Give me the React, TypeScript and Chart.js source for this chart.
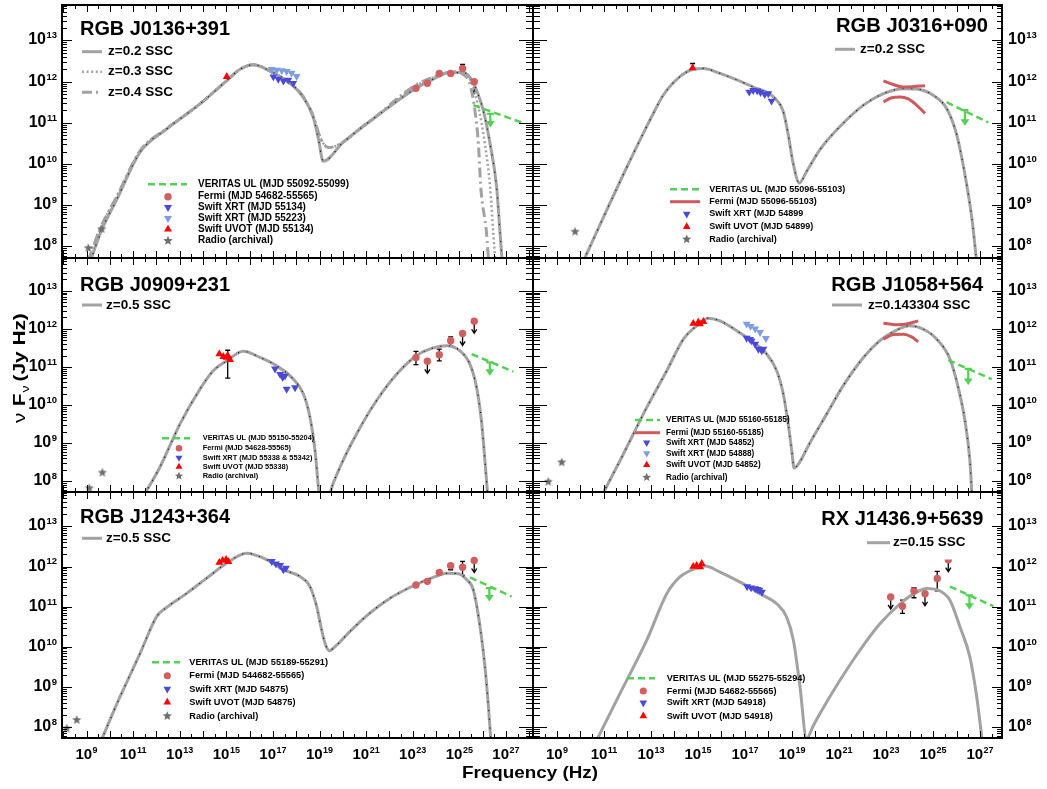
import { useEffect, useRef } from 'react';
import { Chart, registerables } from 'chart.js';

Chart.register(...registerables);

type Pt = [number, number]; // [log10 ν (Hz), log10 νFν (Jy Hz)]
type Flux = [number, number, number, number, number]; // ν, νFν, −err, +err (dex), upper-limit flag
type Arrow = [number, number, number]; // ν, arrow top, arrow tip (log10)

/* ---------- RGB J0136+391 ---------- */
const j0136SscZ02: Pt[] = [
  [9.15, 7.62], [9.65, 8.4], [10.29, 9.13], [11.3, 10.29], [12.44, 10.85], [13.87, 11.46],
  [15.01, 12.02], [15.59, 12.3], [16.16, 12.41], [16.73, 12.3], [17.87, 11.9], [18.3, 11.62],
  [18.73, 11.14], [18.95, 10.62], [19.16, 10.07], [20.02, 10.53], [21.59, 11.22], [23.03, 11.8],
  [23.88, 12.06], [24.6, 12.22], [25.17, 12.22], [25.46, 12.1], [25.75, 11.78], [26.03, 11.3],
  [26.32, 10.49], [26.6, 9.45], [26.75, 8.32], [26.84, 7.62],
];
const j0136SscZ03: Pt[] = [
  [9.05, 7.62], [9.6, 8.45], [10.29, 9.2], [11.3, 10.32], [12.44, 10.86], [13.87, 11.46],
  [15.01, 12.02], [15.59, 12.3], [16.16, 12.41], [16.73, 12.3], [17.87, 11.9], [18.3, 11.64],
  [18.73, 11.16], [19.05, 10.62], [19.38, 10.4], [21.02, 10.97], [23.03, 11.86], [23.88, 12.1],
  [24.75, 12.24], [25.2, 12.2], [25.55, 11.95], [25.85, 11.3], [26.1, 10.49], [26.32, 9.45],
  [26.46, 8.32], [26.55, 7.62],
];
const j0136SscZ04: Pt[] = [
  [9.05, 7.62], [9.6, 8.45], [10.29, 9.2], [11.3, 10.32], [12.44, 10.86], [13.87, 11.46],
  [15.01, 12.02], [15.59, 12.3], [16.16, 12.41], [16.73, 12.3], [17.87, 11.9], [18.3, 11.64],
  [18.73, 11.16], [19.05, 10.62], [19.38, 10.4], [21.02, 10.98], [23.03, 11.88], [23.88, 12.11],
  [24.75, 12.24], [25.15, 12.18], [25.45, 11.95], [25.67, 11.3], [25.82, 10.49], [25.92, 9.45],
  [26.17, 8.32], [26.26, 7.62],
];
const j0136Radio: Pt[] = [[9.08, 7.96], [9.65, 8.42]];
const j0136Uvot: Pt[] = [[15.02, 12.12]];
const j0136Xrt55134: Pt[] = [[17.02, 12.12], [17.23, 12.06], [17.45, 12.02], [17.66, 12.04], [17.87, 11.96]];
const j0136Xrt55223: Pt[] = [[16.95, 12.3], [17.16, 12.28], [17.38, 12.27], [17.59, 12.25], [17.8, 12.21], [18.02, 12.13]];
const j0136Fermi: Flux[] = [
  [23.14, 11.84, 0, 0, 0], [23.63, 11.96, 0, 0, 0], [24.14, 12.2, 0, 0, 0],
  [24.63, 12.2, 0, 0, 0], [25.14, 12.32, 0, 0.1, 0], [25.64, 12.0, 0, 0, 1],
];
const j0136Veritas: Pt[] = [[25.6, 11.43], [27.67, 11.01]];
const j0136VeritasArrow: Arrow = [26.33, 11.22, 10.89];
const j0136ModelText = ['z=0.2 SSC', 'z=0.3 SSC', 'z=0.4 SSC'];
const j0136LegendText = [
  'VERITAS UL (MJD 55092-55099)', 'Fermi (MJD 54682-55565)', 'Swift XRT (MJD 55134)',
  'Swift XRT (MJD 55223)', 'Swift UVOT (MJD 55134)', 'Radio (archival)',
];

/* ---------- RGB J0316+090 ---------- */
const j0316Ssc: Pt[] = [
  [10.1, 7.62], [10.97, 8.7], [11.96, 9.91], [13.1, 11.23], [13.52, 11.67], [14.23, 12.12],
  [14.8, 12.3], [15.23, 12.32], [15.94, 12.2], [17.35, 11.87], [18.21, 11.63], [18.63, 11.27],
  [18.84, 10.71], [19.06, 9.99], [19.31, 9.54], [19.62, 9.82], [20.19, 10.35], [21.04, 10.91],
  [22.04, 11.43], [22.89, 11.71], [23.74, 11.83], [24.3, 11.82], [25.01, 11.67], [25.58, 11.35],
  [26.01, 10.71], [26.36, 9.74], [26.65, 8.7], [26.86, 7.62],
];
const j0316Radio: Pt[] = [[9.77, 8.36]];
const j0316Uvot: Pt[] = [[14.77, 12.33]];
const j0316UvotErr: Flux[] = [[14.77, 12.33, 0, 0.11, 0]];
const j0316Xrt: Pt[] = [
  [17.18, 11.75], [17.35, 11.79], [17.52, 11.78], [17.66, 11.74], [17.84, 11.69], [17.99, 11.71], [18.13, 11.53],
];
const j0316FermiUpper: Pt[] = [[22.89, 12.02], [23.31, 11.93], [23.74, 11.87], [24.16, 11.88], [24.66, 11.9]];
const j0316FermiLower: Pt[] = [[22.89, 11.51], [23.24, 11.61], [23.6, 11.63], [23.95, 11.58], [24.3, 11.43], [24.66, 11.23]];
const j0316Veritas: Pt[] = [[25.58, 11.5], [27.35, 11.01]];
const j0316VeritasArrow: Arrow = [26.36, 11.31, 10.93];
const j0316ModelText = ['z=0.2 SSC'];
const j0316LegendText = [
  'VERITAS UL (MJD 55096-55103)', 'Fermi (MJD 55096-55103)', 'Swift XRT (MJD 54899',
  'Swift UVOT (MJD 54899)', 'Radio (archival)',
];

/* ---------- RGB J0909+231 ---------- */
const j0909Ssc: Pt[] = [
  [11.45, 7.62], [12.15, 8.37], [13.01, 9.5], [13.87, 10.42], [14.44, 10.9], [15.02, 11.16],
  [15.73, 11.41], [16.45, 11.25], [17.16, 11.03], [17.88, 10.68], [18.31, 10.29], [18.59, 9.68],
  [18.81, 8.8], [18.98, 7.69], [19.2, 7.0], [19.45, 7.69], [19.88, 8.37], [20.59, 9.24],
  [21.45, 10.12], [22.31, 10.81], [23.17, 11.3], [23.88, 11.5], [24.45, 11.56], [25.02, 11.43],
  [25.45, 11.08], [25.74, 10.47], [25.95, 9.59], [26.1, 8.54], [26.22, 7.62],
];
const j0909Radio: Pt[] = [[9.12, 7.82], [9.68, 8.23]];
const j0909Uvot: Pt[] = [[14.7, 11.34], [14.87, 11.27], [15.01, 11.25], [15.16, 11.19], [15.06, 11.3]];
const j0909UvotErr: Flux[] = [[15.06, 11.3, 0.59, 0.14, 0]];
const j0909Xrt: Pt[] = [[17.09, 10.95], [17.31, 10.81], [17.42, 10.73], [17.52, 10.77], [17.59, 10.42], [17.95, 10.46]];
const j0909Fermi: Flux[] = [
  [23.14, 11.25, 0.19, 0.16, 0], [23.63, 11.15, 0, 0, 1], [24.14, 11.32, 0.16, 0.15, 0],
  [24.63, 11.69, 0.13, 0.1, 0], [25.14, 11.88, 0, 0, 1], [25.64, 12.2, 0, 0, 1],
];
const j0909Veritas: Pt[] = [[25.53, 11.34], [27.32, 10.88]];
const j0909VeritasArrow: Arrow = [26.31, 11.12, 10.77];
const j0909ModelText = ['z=0.5 SSC'];
const j0909LegendText = [
  'VERITAS UL (MJD 55150-55204)', 'Fermi (MJD 54628-55565)', 'Swift XRT (MJD 55338 & 55342)',
  'Swift UVOT (MJD 55338)', 'Radio (archival)',
];

/* ---------- RGB J1058+564 ---------- */
const j1058Ssc: Pt[] = [
  [10.9, 7.62], [11.68, 8.54], [12.82, 9.94], [13.67, 10.9], [14.38, 11.73], [14.94, 12.08],
  [15.44, 12.28], [15.94, 12.21], [16.65, 11.95], [17.35, 11.65], [17.92, 11.34], [18.35, 10.9],
  [18.63, 10.29], [18.84, 9.5], [18.99, 8.8], [19.09, 8.35], [19.27, 8.45], [19.77, 9.02],
  [20.48, 9.77], [21.18, 10.51], [22.04, 11.25], [22.74, 11.69], [23.45, 11.97], [24.02, 12.08],
  [24.59, 11.99], [25.16, 11.73], [25.72, 11.21], [26.07, 10.47], [26.36, 9.59], [26.57, 8.54],
  [26.66, 7.62],
];
const j1058Radio: Pt[] = [[8.63, 7.99], [9.2, 8.5]];
const j1058Uvot: Pt[] = [[14.8, 12.14], [15.01, 12.17], [15.23, 12.19], [15.08, 12.13]];
const j1058Xrt54852: Pt[] = [
  [17.07, 11.76], [17.21, 11.73], [17.28, 11.69], [17.43, 11.6], [17.57, 11.47], [17.71, 11.43], [17.78, 11.47],
];
const j1058Xrt54888: Pt[] = [[17.07, 12.13], [17.24, 12.07], [17.43, 12.0], [17.64, 11.91], [17.89, 11.75]];
const j1058FermiUpper: Pt[] = [[22.89, 12.15], [23.45, 12.11], [23.88, 12.13], [24.37, 12.21]];
const j1058FermiLower: Pt[] = [[22.89, 11.73], [23.31, 11.85], [23.74, 11.86], [24.09, 11.79], [24.37, 11.66]];
const j1058Veritas: Pt[] = [[25.65, 11.18], [27.5, 10.68]];
const j1058VeritasArrow: Arrow = [26.5, 10.95, 10.53];
const j1058ModelText = ['z=0.143304 SSC'];
const j1058LegendText = [
  'VERITAS UL (MJD 55160-55185)', 'Fermi (MJD 55160-55185)', 'Swift XRT (MJD 54852)',
  'Swift XRT (MJD 54888)', 'Swift UVOT (MJD 54852)', 'Radio (archival)',
];

/* ---------- RGB J1243+364 ---------- */
const j1243Ssc: Pt[] = [
  [9.6, 7.62], [10.44, 8.75], [11.3, 9.83], [12.01, 10.75], [12.44, 10.98], [13.3, 11.33],
  [14.16, 11.71], [15.01, 12.08], [15.87, 12.33], [16.73, 12.17], [17.45, 11.92], [18.16, 11.75],
  [18.59, 11.5], [18.88, 11.0], [19.09, 10.42], [19.24, 10.08], [19.42, 9.9], [19.59, 9.96],
  [20.31, 10.38], [21.02, 10.77], [22.03, 11.21], [23.03, 11.52], [23.88, 11.73], [24.46, 11.83],
  [24.96, 11.82], [25.32, 11.67], [25.6, 11.42], [25.89, 10.5], [26.1, 9.5], [26.25, 8.5], [26.36, 7.62],
];
const j1243Radio: Pt[] = [[8.15, 7.96], [8.58, 8.17]];
const j1243Uvot: Pt[] = [[14.7, 12.1], [14.84, 12.15], [14.99, 12.17], [15.09, 12.12]];
const j1243Xrt: Pt[] = [[16.95, 12.13], [17.13, 12.07], [17.31, 12.03], [17.45, 11.92], [17.56, 11.96]];
const j1243Fermi: Flux[] = [
  [23.14, 11.54, 0, 0, 0], [23.63, 11.63, 0, 0, 0], [24.14, 11.85, 0, 0, 0],
  [24.63, 12.02, 0.1, 0, 0], [25.14, 11.98, 0.2, 0.15, 0], [25.64, 12.15, 0, 0, 1],
];
const j1243Veritas: Pt[] = [[25.46, 11.73], [27.25, 11.25]];
const j1243VeritasArrow: Arrow = [26.29, 11.46, 11.13];
const j1243ModelText = ['z=0.5 SSC'];
const j1243LegendText = [
  'VERITAS UL (MJD 55189-55291)', 'Fermi (MJD 544682-55565)', 'Swift XRT (MJD 54875)',
  'Swift UVOT (MJD 54875)', 'Radio (archival)',
];

/* ---------- RX J1436.9+5639 ---------- */
const j1436Ssc: Pt[] = [
  [10.65, 7.62], [11.68, 8.83], [12.82, 10.16], [13.67, 11.32], [14.23, 11.74], [14.94, 11.96],
  [15.3, 12.01], [15.94, 11.86], [16.79, 11.61], [17.64, 11.32], [18.35, 11.07], [18.77, 10.74],
  [19.06, 10.16], [19.34, 9.0], [19.62, 7.7], [19.9, 8.02], [20.19, 8.33],
  [21.04, 9.16], [21.89, 9.91], [22.74, 10.57], [23.6, 11.07], [24.3, 11.36], [24.73, 11.45],
  [25.3, 11.39], [25.72, 11.16], [26.15, 10.49], [26.57, 9.74], [26.86, 8.75], [27.1, 7.62],
];
const j1436Uvot: Pt[] = [[14.8, 12.0], [14.94, 12.02], [15.16, 12.07], [15.09, 11.99]];
const j1436Xrt: Pt[] = [[17.09, 11.5], [17.26, 11.47], [17.43, 11.45], [17.53, 11.43], [17.61, 11.41], [17.72, 11.36]];
const j1436Fermi: Flux[] = [
  [23.2, 11.24, 0, 0, 1], [23.7, 11.01, 0.18, 0.15, 0], [24.19, 11.39, 0.17, 0.08, 0],
  [24.66, 11.32, 0, 0, 1], [25.18, 11.7, 0.31, 0.18, 0], [25.65, 12.17, 0, 0, 1],
];
const j1436Veritas: Pt[] = [[25.72, 11.5], [27.57, 11.01]];
const j1436VeritasArrow: Arrow = [26.55, 11.28, 10.92];
const j1436ModelText = ['z=0.15 SSC'];
const j1436LegendText = [
  'VERITAS UL (MJD 55275-55294)', 'Fermi (MJD 54682-55565)', 'Swift XRT (MJD 54918)', 'Swift UVOT (MJD 54918)',
];

/* ---------- axes ---------- */
const Y_RANGE: Pt = [7.72, 13.86];
const X_RANGE_LEFT: Pt = [7.9485, 28.163];
const X_RANGE_RIGHT: Pt = [7.979, 27.936];
const Y_DECADES = [8, 9, 10, 11, 12, 13];
const X_LABELS = [9, 11, 13, 15, 17, 19, 21, 23, 25, 27];

/* ---------- layout & style ---------- */
const W = 1047;
const H = 789;
const FONT = '"Liberation Sans", Arial, Helvetica, sans-serif';
const ROWS: Pt[] = [[3, 258], [258, 492], [492, 738]];
const COLS: Record<'left' | 'right', Pt> = { left: [62, 533], right: [533, 1002] };

const GREY = '#a2a2a2';
const FERMI_RED = '#d15f5f';
const XRT_BLUE = '#4a4ad8';
const XRT_LIGHT = '#7f9de2';
const UVOT_RED = '#ff0000';
const RADIO_GREY = '#6e6e6e';
const GREEN = '#55cf55';
const BOWTIE = '#cc5c5c';

type Style = 'solid' | 'dot' | 'dashdot';
type Kind = 'veritas' | 'bowtie' | 'fermi' | 'xrtA' | 'xrtB' | 'uvot' | 'radio';
const STYLE_DASH: Record<Style, number[]> = { solid: [], dot: [2, 2.6], dashdot: [10, 4, 2, 4] };
const STYLE_WIDTH: Record<Style, number> = { solid: 3, dot: 2.5, dashdot: 3 };

interface Panel {
  title: string; titleX: number; titleY: number; titleAlign: 'left' | 'right'; titleW: number;
  col: 'left' | 'right'; row: number;
  models: { pts: Pt[]; style: Style; label: string }[];
  modelDots: boolean;
  modelLeg: { x0: number; x1: number; tx: number; ys: number[] };
  radio?: Pt[]; uvot: Pt[]; uvotErr?: Flux[]; xrtA: Pt[]; xrtB?: Pt[];
  fermi?: Flux[]; bowtie?: Pt[][];
  veritas: Pt[]; vArrow: Arrow;
  leg: { text: string[]; kinds: Kind[]; x0: number; x1: number; mx: number; tx: number; ys: number[]; font: number };
  cover?: [number, number, number, number];
  yTitle?: boolean; xTitle?: boolean;
}

const PANELS: Panel[] = [
  {
    title: 'RGB J0136+391', titleX: 80, titleY: 35, titleAlign: 'left', titleW: 150, col: 'left', row: 0,
    models: [
      { pts: j0136SscZ02, style: 'solid', label: j0136ModelText[0] },
      { pts: j0136SscZ03, style: 'dot', label: j0136ModelText[1] },
      { pts: j0136SscZ04, style: 'dashdot', label: j0136ModelText[2] },
    ],
    modelDots: true, modelLeg: { x0: 82, x1: 102, tx: 108, ys: [51.7, 71.7, 92.3] },
    radio: j0136Radio, uvot: j0136Uvot, xrtA: j0136Xrt55134, xrtB: j0136Xrt55223, fermi: j0136Fermi,
    veritas: j0136Veritas, vArrow: j0136VeritasArrow,
    leg: {
      text: j0136LegendText, kinds: ['veritas', 'fermi', 'xrtA', 'xrtB', 'uvot', 'radio'],
      x0: 148, x1: 187, mx: 168, tx: 198, ys: [184.3, 196.7, 207.3, 218.3, 229.3, 240.7], font: 10,
    },
  },
  {
    title: 'RGB J0316+090', titleX: 988, titleY: 31.7, titleAlign: 'right', titleW: 152, col: 'right', row: 0,
    models: [{ pts: j0316Ssc, style: 'solid', label: j0316ModelText[0] }],
    modelDots: true, modelLeg: { x0: 835, x1: 855, tx: 860, ys: [49.3] },
    radio: j0316Radio, uvot: j0316Uvot, uvotErr: j0316UvotErr, xrtA: j0316Xrt,
    bowtie: [j0316FermiUpper, j0316FermiLower],
    veritas: j0316Veritas, vArrow: j0316VeritasArrow,
    leg: {
      text: j0316LegendText, kinds: ['veritas', 'bowtie', 'xrtA', 'uvot', 'radio'],
      x0: 670, x1: 700, mx: 686.7, tx: 709.3, ys: [189.3, 201.7, 214, 226.7, 239.3], font: 9,
    },
  },
  {
    title: 'RGB J0909+231', titleX: 80, titleY: 290.7, titleAlign: 'left', titleW: 150, col: 'left', row: 1,
    models: [{ pts: j0909Ssc, style: 'solid', label: j0909ModelText[0] }],
    modelDots: true, modelLeg: { x0: 82, x1: 102, tx: 106, ys: [305] },
    radio: j0909Radio, uvot: j0909Uvot, uvotErr: j0909UvotErr, xrtA: j0909Xrt, fermi: j0909Fermi,
    veritas: j0909Veritas, vArrow: j0909VeritasArrow,
    leg: {
      text: j0909LegendText, kinds: ['veritas', 'fermi', 'xrtA', 'uvot', 'radio'],
      x0: 162, x1: 190, mx: 179, tx: 202.7, ys: [438.3, 448.3, 457.7, 466.7, 476], font: 7.4,
    },
    yTitle: true,
  },
  {
    title: 'RGB J1058+564', titleX: 983.3, titleY: 290.7, titleAlign: 'right', titleW: 152, col: 'right', row: 1,
    models: [{ pts: j1058Ssc, style: 'solid', label: j1058ModelText[0] }],
    modelDots: true, modelLeg: { x0: 832, x1: 862, tx: 868, ys: [305] },
    radio: j1058Radio, uvot: j1058Uvot, xrtA: j1058Xrt54852, xrtB: j1058Xrt54888,
    bowtie: [j1058FermiUpper, j1058FermiLower],
    veritas: j1058Veritas, vArrow: j1058VeritasArrow,
    leg: {
      text: j1058LegendText, kinds: ['veritas', 'bowtie', 'xrtA', 'xrtB', 'uvot', 'radio'],
      x0: 635, x1: 660, mx: 646.7, tx: 666, ys: [420, 432.7, 442.7, 453.3, 465, 477.3], font: 8.2,
    },
  },
  {
    title: 'RGB J1243+364', titleX: 80, titleY: 522.7, titleAlign: 'left', titleW: 150, col: 'left', row: 2,
    models: [{ pts: j1243Ssc, style: 'solid', label: j1243ModelText[0] }],
    modelDots: true, modelLeg: { x0: 82, x1: 102, tx: 106, ys: [538.3] },
    radio: j1243Radio, uvot: j1243Uvot, xrtA: j1243Xrt, fermi: j1243Fermi,
    veritas: j1243Veritas, vArrow: j1243VeritasArrow,
    leg: {
      text: j1243LegendText, kinds: ['veritas', 'fermi', 'xrtA', 'uvot', 'radio'],
      x0: 152, x1: 180, mx: 167.3, tx: 189.3, ys: [662.3, 675.7, 689, 702.3, 716], font: 9.2,
    },
    xTitle: true,
  },
  {
    title: 'RX J1436.9+5639', titleX: 983.3, titleY: 525, titleAlign: 'right', titleW: 162, col: 'right', row: 2,
    models: [{ pts: j1436Ssc, style: 'solid', label: j1436ModelText[0] }],
    modelDots: false, modelLeg: { x0: 867, x1: 890, tx: 893, ys: [542.7] },
    uvot: j1436Uvot, xrtA: j1436Xrt, fermi: j1436Fermi,
    veritas: j1436Veritas, vArrow: j1436VeritasArrow,
    leg: {
      text: j1436LegendText, kinds: ['veritas', 'fermi', 'xrtA', 'uvot'],
      x0: 627, x1: 655, mx: 643.3, tx: 666.7, ys: [678.3, 691, 702.7, 716], font: 9.2,
    },
    cover: [860, 530, 992, 559.5],
  },
];

/* ---------- drawing helpers ---------- */
function starPath(g: CanvasRenderingContext2D, cx: number, cy: number, r: number) {
  const ri = r * 0.45;
  g.beginPath();
  for (let i = 0; i < 10; i++) {
    const a = -Math.PI / 2 + (i * Math.PI) / 5;
    const rr = i % 2 === 0 ? r : ri;
    g.lineTo(cx + rr * Math.cos(a), cy + rr * Math.sin(a));
  }
  g.closePath();
}

function makeStar(r: number, color: string) {
  const c = document.createElement('canvas');
  const s = Math.ceil(r * 2 + 2);
  c.width = s;
  c.height = s;
  const g = c.getContext('2d')!;
  starPath(g, s / 2, s / 2, r);
  g.fillStyle = color;
  g.fill();
  return c;
}

function drawPow(ctx: CanvasRenderingContext2D, n: number, x: number, y: number,
  align: 'left' | 'right' | 'center', base: number, sup: number) {
  ctx.font = `bold ${base}px ${FONT}`;
  const w1 = ctx.measureText('10').width;
  ctx.font = `bold ${sup}px ${FONT}`;
  const s = String(n);
  const w2 = ctx.measureText(s).width;
  const total = w1 + 0.5 + w2;
  const x0 = align === 'left' ? x : align === 'right' ? x - total : x - total / 2;
  ctx.textAlign = 'left';
  ctx.textBaseline = 'alphabetic';
  ctx.font = `bold ${base}px ${FONT}`;
  ctx.fillText('10', x0, y);
  ctx.font = `bold ${sup}px ${FONT}`;
  ctx.fillText(s, x0 + w1 + 0.5, y - base * 0.38);
}

function fitText(ctx: CanvasRenderingContext2D, text: string, x: number, y: number, width: number,
  align: 'left' | 'right' | 'center') {
  const w = ctx.measureText(text).width;
  ctx.save();
  ctx.translate(x, y);
  ctx.scale(width / w, 1);
  ctx.textAlign = align;
  ctx.fillText(text, 0, 0);
  ctx.restore();
}

function drawMark(ctx: CanvasRenderingContext2D, kind: Kind, x: number, y: number, s: number) {
  ctx.save();
  ctx.translate(x, y);
  if (kind === 'fermi') {
    ctx.fillStyle = FERMI_RED;
    ctx.beginPath();
    ctx.arc(0, 0, 3.7 * s, 0, Math.PI * 2);
    ctx.fill();
  } else if (kind === 'uvot' || kind === 'xrtA' || kind === 'xrtB') {
    const r = 4.6 * s;
    ctx.fillStyle = kind === 'uvot' ? UVOT_RED : kind === 'xrtA' ? XRT_BLUE : XRT_LIGHT;
    if (kind !== 'uvot') ctx.rotate(Math.PI);
    ctx.beginPath();
    ctx.moveTo(0, -r);
    ctx.lineTo(r * 0.866, r * 0.5);
    ctx.lineTo(-r * 0.866, r * 0.5);
    ctx.closePath();
    ctx.fill();
  } else if (kind === 'radio') {
    starPath(ctx, 0, 0, 5 * s);
    ctx.fillStyle = RADIO_GREY;
    ctx.fill();
  }
  ctx.restore();
}

const xy = (a: Pt[]) => a.map(([x, y]) => ({ x: 10 ** x, y: 10 ** y }));

function markers(pts: Pt[], style: any, color: string, r: number, rot: number, order: number) {
  return {
    data: xy(pts), showLine: false, pointStyle: style, pointRadius: r, pointHoverRadius: r,
    pointRotation: rot, pointBackgroundColor: color, pointBorderColor: color, pointBorderWidth: 0,
    order, clip: false,
  };
}

function curve(pts: Pt[], color: string, width: number, dash: number[], order: number) {
  return {
    data: xy(pts), showLine: true, borderColor: color, borderWidth: width, borderDash: dash,
    pointRadius: 0, pointHoverRadius: 0, cubicInterpolationMode: 'monotone', fill: false, clip: 0, order,
  };
}

function buildDatasets(p: Panel) {
  const out: any[] = [];
  if (p.radio) out.push(markers(p.radio, makeStar(4.8, RADIO_GREY), RADIO_GREY, 5, 0, 1));
  out.push(markers(p.uvot, 'triangle', UVOT_RED, 4.6, 0, 1));
  if (p.xrtB) out.push(markers(p.xrtB, 'triangle', XRT_LIGHT, 4.6, 180, 2));
  out.push(markers(p.xrtA, 'triangle', XRT_BLUE, 4.6, 180, 1));
  if (p.fermi) out.push(markers(p.fermi.map((f) => [f[0], f[1]] as Pt), 'circle', FERMI_RED, 3.7, 0, 0));
  if (p.bowtie) p.bowtie.forEach((b) => out.push(curve(b, BOWTIE, 3, [], 5)));
  out.push(curve(p.veritas, GREEN, 2.5, [7, 4], 5));
  if (p.modelDots) out.push(curve(p.models[0].pts, 'rgba(0,0,0,0.8)', 1.2, [1.2, 7.5], 9));
  p.models.forEach((m, i) => out.push(curve(m.pts, GREY, STYLE_WIDTH[m.style], STYLE_DASH[m.style], 10 + i)));
  return out;
}

function sedPlugin(p: Panel) {
  return {
    id: 'sed' + p.row + p.col,
    beforeDatasetsDraw(chart: any) {
      const ctx: CanvasRenderingContext2D = chart.ctx;
      const X = (v: number) => chart.scales.x.getPixelForValue(10 ** v);
      const Y = (v: number) => chart.scales.y.getPixelForValue(10 ** v);
      ctx.save();
      ctx.strokeStyle = '#000';
      ctx.lineWidth = 1.3;
      const bars = [...(p.fermi || []), ...(p.uvotErr || [])];
      for (const [nu, f, lo, hi, ul] of bars) {
        const px = X(nu);
        const py = Y(f);
        ctx.beginPath();
        if (lo > 0 || hi > 0) {
          const yTop = Y(f + hi);
          const yBot = Y(f - lo);
          ctx.moveTo(px, yTop); ctx.lineTo(px, yBot);
          if (hi > 0) { ctx.moveTo(px - 2.5, yTop); ctx.lineTo(px + 2.5, yTop); }
          if (lo > 0) { ctx.moveTo(px - 2.5, yBot); ctx.lineTo(px + 2.5, yBot); }
        }
        if (ul) {
          ctx.moveTo(px, py); ctx.lineTo(px, py + 12);
          ctx.moveTo(px - 2.6, py + 8); ctx.lineTo(px, py + 12); ctx.lineTo(px + 2.6, py + 8);
        }
        ctx.stroke();
      }
      // VERITAS upper-limit arrow
      const [vn, vt, vb] = p.vArrow;
      const ax = X(vn);
      const at = Y(vt);
      const ab = Y(vb);
      ctx.strokeStyle = GREEN;
      ctx.fillStyle = GREEN;
      ctx.lineWidth = 2.2;
      ctx.beginPath();
      ctx.moveTo(ax - 3.5, at); ctx.lineTo(ax + 3.5, at);
      ctx.moveTo(ax, at); ctx.lineTo(ax, ab - 5);
      ctx.stroke();
      ctx.beginPath();
      ctx.moveTo(ax - 4.5, ab - 6.5); ctx.lineTo(ax + 4.5, ab - 6.5); ctx.lineTo(ax, ab);
      ctx.closePath();
      ctx.fill();
      ctx.restore();
    },
    afterDatasetsDraw(chart: any) {
      const ctx: CanvasRenderingContext2D = chart.ctx;
      const { left, right, top, bottom } = chart.chartArea;
      const X = (v: number) => chart.scales.x.getPixelForValue(10 ** v);
      const Y = (v: number) => chart.scales.y.getPixelForValue(10 ** v);
      ctx.save();
      if (p.cover) {
        const [a, b, c, d] = p.cover;
        ctx.fillStyle = '#fff';
        ctx.fillRect(a, b, c - a, d - b);
      }
      // tick marks
      ctx.strokeStyle = '#000';
      ctx.lineWidth = 1;
      ctx.beginPath();
      for (let n = Math.floor(Y_RANGE[0]); n <= Math.ceil(Y_RANGE[1]); n++) {
        for (let m = 1; m < 10; m++) {
          const v = n + Math.log10(m);
          if (v < Y_RANGE[0] || v > Y_RANGE[1]) continue;
          const py = Math.round(Y(v)) + 0.5;
          const inner = m === 1 ? 10 : 5;
          const mid = m === 1 ? 14 : 7;
          if (p.col === 'left') {
            ctx.moveTo(left, py); ctx.lineTo(left + inner, py);
            ctx.moveTo(right - mid, py); ctx.lineTo(right, py);
          } else {
            ctx.moveTo(left, py); ctx.lineTo(left + mid, py);
            ctx.moveTo(right - inner, py); ctx.lineTo(right, py);
          }
        }
      }
      const xr = p.col === 'left' ? X_RANGE_LEFT : X_RANGE_RIGHT;
      for (let k = Math.ceil(xr[0] * 2); k <= Math.floor(xr[1] * 2); k++) {
        const px = Math.round(X(k / 2)) + 0.5;
        const len = k % 2 === 0 ? 7 : 4;
        ctx.moveTo(px, top); ctx.lineTo(px, top + len);
        ctx.moveTo(px, bottom); ctx.lineTo(px, bottom - len);
      }
      ctx.stroke();
      ctx.lineWidth = 2;
      ctx.strokeRect(left, top, right - left, bottom - top);

      // axis numbers
      ctx.fillStyle = '#000';
      for (const n of Y_DECADES) {
        const py = Y(n);
        if (p.col === 'left') drawPow(ctx, n, left - 5, py + 4, 'right', 16, 9.5);
        else drawPow(ctx, n, right + 6, py + 4, 'left', 16, 9.5);
      }
      if (p.row === 2) for (const n of X_LABELS) drawPow(ctx, n, X(n), bottom + 20.5, 'center', 15, 9);

      // panel title
      ctx.font = `bold 21px ${FONT}`;
      ctx.textBaseline = 'alphabetic';
      fitText(ctx, p.title, p.titleX, p.titleY, p.titleW, p.titleAlign);

      // model legend
      p.models.forEach((m, i) => {
        const y = p.modelLeg.ys[i];
        ctx.strokeStyle = GREY;
        ctx.lineWidth = STYLE_WIDTH[m.style];
        ctx.setLineDash(STYLE_DASH[m.style]);
        ctx.beginPath();
        ctx.moveTo(p.modelLeg.x0, y); ctx.lineTo(p.modelLeg.x1, y);
        ctx.stroke();
        ctx.setLineDash([]);
        ctx.font = `bold 13.5px ${FONT}`;
        ctx.textAlign = 'left';
        ctx.textBaseline = 'middle';
        ctx.fillText(m.label, p.modelLeg.tx, y);
      });

      // data legend
      const L = p.leg;
      const s = Math.min(1, 0.55 + L.font * 0.045);
      L.kinds.forEach((k, i) => {
        const y = L.ys[i];
        if (k === 'veritas' || k === 'bowtie') {
          ctx.strokeStyle = k === 'veritas' ? GREEN : BOWTIE;
          ctx.lineWidth = k === 'veritas' ? 2.5 : 3;
          ctx.setLineDash(k === 'veritas' ? [7, 4] : []);
          ctx.beginPath();
          ctx.moveTo(L.x0, y); ctx.lineTo(L.x1, y);
          ctx.stroke();
          ctx.setLineDash([]);
        } else {
          drawMark(ctx, k, L.mx, y, s);
        }
        ctx.fillStyle = '#000';
        ctx.font = `bold ${L.font}px ${FONT}`;
        ctx.textAlign = 'left';
        ctx.textBaseline = 'middle';
        ctx.fillText(L.text[i], L.tx, y);
      });

      // shared axis titles
      if (p.yTitle) {
        ctx.save();
        ctx.translate(25, 423);
        ctx.rotate(-Math.PI / 2);
        ctx.scale(1.3, 1);
        ctx.textAlign = 'left';
        ctx.textBaseline = 'alphabetic';
        ctx.fillStyle = '#000';
        ctx.font = `16px ${FONT}`;
        ctx.fillText('ν', 0, 0);
        ctx.font = `bold 16px ${FONT}`;
        ctx.fillText('F', 12.8, 0);
        ctx.font = `11px ${FONT}`;
        ctx.fillText('ν', 23.5, 3.5);
        ctx.font = `bold 16px ${FONT}`;
        ctx.fillText('(Jy Hz)', 32, 0);
        ctx.restore();
      }
      if (p.xTitle) {
        ctx.fillStyle = '#000';
        ctx.font = `bold 17px ${FONT}`;
        ctx.textBaseline = 'alphabetic';
        fitText(ctx, 'Frequency (Hz)', 530, 778, 136, 'center');
      }
      ctx.restore();
    },
  };
}

function SedPanel({ spec }: { spec: Panel }) {
  const ref = useRef<HTMLCanvasElement>(null);
  useEffect(() => {
    const [l, r] = COLS[spec.col];
    const [t, b] = ROWS[spec.row];
    const xr = spec.col === 'left' ? X_RANGE_LEFT : X_RANGE_RIGHT;
    const chart = new Chart(ref.current!, {
      type: 'scatter',
      data: { datasets: buildDatasets(spec) },
      options: {
        responsive: false,
        animation: false,
        devicePixelRatio: 1,
        events: [],
        layout: { padding: { left: l, right: W - r, top: t, bottom: H - b } },
        plugins: { legend: { display: false }, tooltip: { enabled: false }, title: { display: false } },
        scales: {
          x: { type: 'logarithmic', display: false, min: 10 ** xr[0], max: 10 ** xr[1] },
          y: { type: 'logarithmic', display: false, min: 10 ** Y_RANGE[0], max: 10 ** Y_RANGE[1] },
        },
      } as any,
      plugins: [sedPlugin(spec)],
    } as any);
    return () => chart.destroy();
  }, [spec]);
  return (
    <canvas
      ref={ref}
      width={W}
      height={H}
      style={{ position: 'absolute', left: 0, top: 0, width: W, height: H }}
    />
  );
}

export default function App() {
  return (
    <div style={{ position: 'absolute', left: 0, top: 0, width: W, height: H, background: '#fff', overflow: 'hidden' }}>
      {PANELS.map((p) => (
        <SedPanel key={p.title} spec={p} />
      ))}
    </div>
  );
}
